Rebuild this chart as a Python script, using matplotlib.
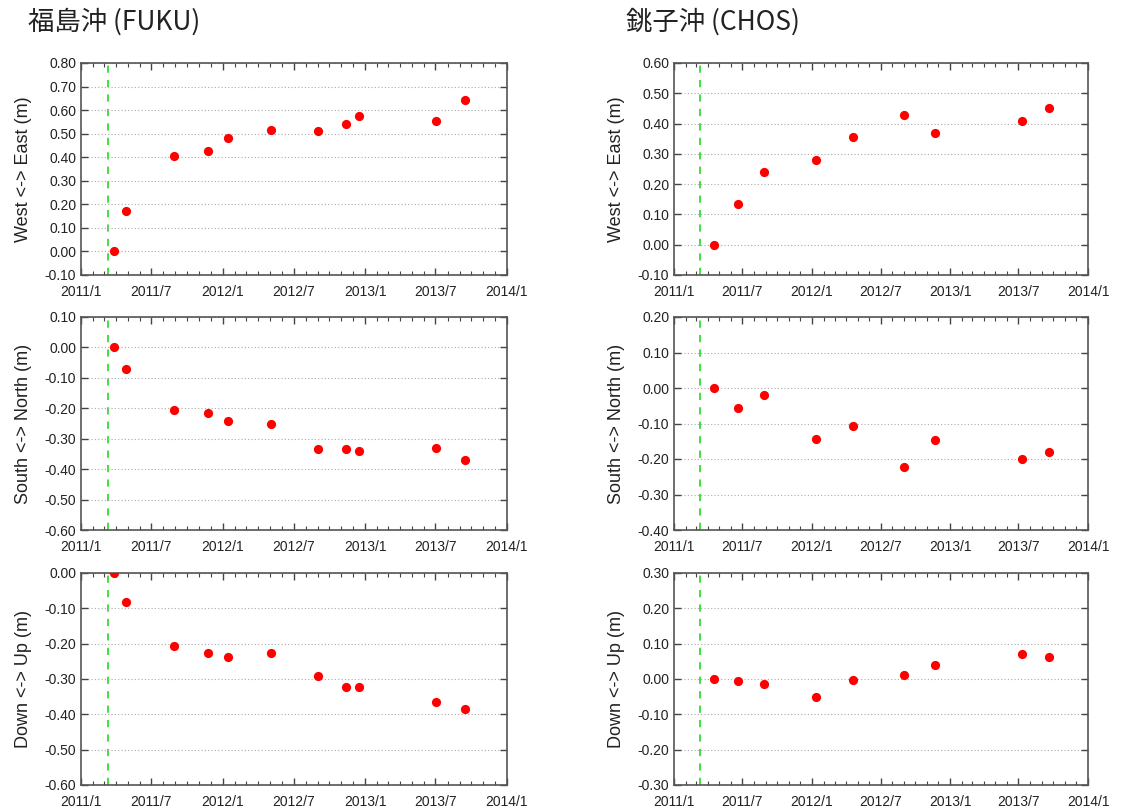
import numpy as np
import pandas as pd
import matplotlib
matplotlib.use("Agg")
import matplotlib.pyplot as plt
import matplotlib.dates as mdates

# observation dates
fuku_dates = pd.to_datetime(["2011-03-28", "2011-04-27", "2011-08-28", "2011-11-24", "2012-01-14",
                             "2012-05-05", "2012-09-03", "2012-11-14", "2012-12-15", "2013-07-03",
                             "2013-09-16"])
chos_dates = pd.to_datetime(["2011-04-17", "2011-06-20", "2011-08-26", "2012-01-12", "2012-04-19",
                             "2012-09-02", "2012-11-23", "2013-07-09", "2013-09-19"])

fuku_ew = [0.00, 0.172, 0.407, 0.427, 0.480, 0.515, 0.511, 0.541, 0.577, 0.554, 0.641]
fuku_ns = [0.00, -0.071, -0.206, -0.215, -0.241, -0.252, -0.334, -0.333, -0.342, -0.331, -0.370]
fuku_ud = [0.00, -0.083, -0.208, -0.227, -0.237, -0.227, -0.292, -0.322, -0.323, -0.366, -0.384]

chos_ew = [0.00, 0.135, 0.239, 0.281, 0.357, 0.427, 0.368, 0.407, 0.452]
chos_ns = [0.00, -0.057, -0.019, -0.145, -0.108, -0.223, -0.146, -0.199, -0.181]
chos_ud = [0.00, -0.005, -0.014, -0.052, -0.002, 0.010, 0.040, 0.072, 0.062]

quake = pd.Timestamp("2011-03-11")
ylabels = ["West <-> East (m)", "South <-> North (m)", "Down <-> Up (m)"]
fuku_ylims = [(-0.10, 0.80), (-0.60, 0.10), (-0.60, 0.00)]
chos_ylims = [(-0.10, 0.60), (-0.40, 0.20), (-0.30, 0.30)]

plt.rcParams['font.family'] = ['Liberation Sans', 'DejaVu Sans']

fig = plt.figure(figsize=(11.26, 8.07), dpi=100)

rows = [(63, 275), (317, 530), (573, 785)]
cols = [(81, 507), (674, 1088)]
W, H = 1126, 807

def yfmt(v, p):
    s = "%.2f" % v
    if s == "-0.00":
        s = "0.00"
    return s

def draw(ax, dates, vals, ylim, ylabel):
    ax.axvline(quake, color="#33dd33", ls=(0, (4, 4)), lw=1.3, zorder=1)
    ax.scatter(dates, vals, s=44, color="red", zorder=3, linewidths=0)
    ax.set_xlim(pd.Timestamp("2011-01-01"), pd.Timestamp("2014-01-01"))
    ax.set_ylim(*ylim)
    ax.set_yticks(np.round(np.arange(ylim[0], ylim[1] + 0.001, 0.1), 2))
    ax.yaxis.set_major_formatter(plt.FuncFormatter(yfmt))
    ax.xaxis.set_major_locator(mdates.MonthLocator(bymonth=[1, 7]))
    ax.xaxis.set_minor_locator(mdates.MonthLocator())
    ax.xaxis.set_major_formatter(plt.FuncFormatter(
        lambda v, p: "%d/%d" % (mdates.num2date(v).year, mdates.num2date(v).month)))
    ax.tick_params(which="both", direction="in", top=True, right=True, labelsize=10,
                   colors="#444444", labelcolor="#222222")
    ax.tick_params(which="major", length=5, width=1)
    ax.tick_params(axis="x", which="major", pad=7)
    ax.tick_params(which="minor", length=3, width=0.8)
    ax.grid(axis="y", color="#aaaaaa", ls=(0, (1, 2)), lw=0.8)
    for sp in ax.spines.values():
        sp.set_color("#555555")
        sp.set_linewidth(1.2)
    ax.set_ylabel(ylabel, fontsize=13, color="#222222", labelpad=9)

series = [
    (fuku_dates, [fuku_ew, fuku_ns, fuku_ud], fuku_ylims),
    (chos_dates, [chos_ew, chos_ns, chos_ud], chos_ylims),
]

for c, (dates, vals_list, ylims) in enumerate(series):
    x0, x1 = cols[c]
    for r in range(3):
        y0, y1 = rows[r]
        ax = fig.add_axes([x0 / W, 1 - y1 / H, (x1 - x0) / W, (y1 - y0) / H])
        draw(ax, dates, vals_list[r], ylims[r], ylabels[r])

fig.text(28 / W, 1 - 22 / H, "福島沖 (FUKU)", fontsize=19, va="center", ha="left",
         family=['Noto Sans CJK JP', 'DejaVu Sans'], color="#222222")
fig.text(626 / W, 1 - 22 / H, "銚子沖 (CHOS)", fontsize=19, va="center", ha="left",
         family=['Noto Sans CJK JP', 'DejaVu Sans'], color="#222222")

fig.savefig("out.png", dpi=100)
